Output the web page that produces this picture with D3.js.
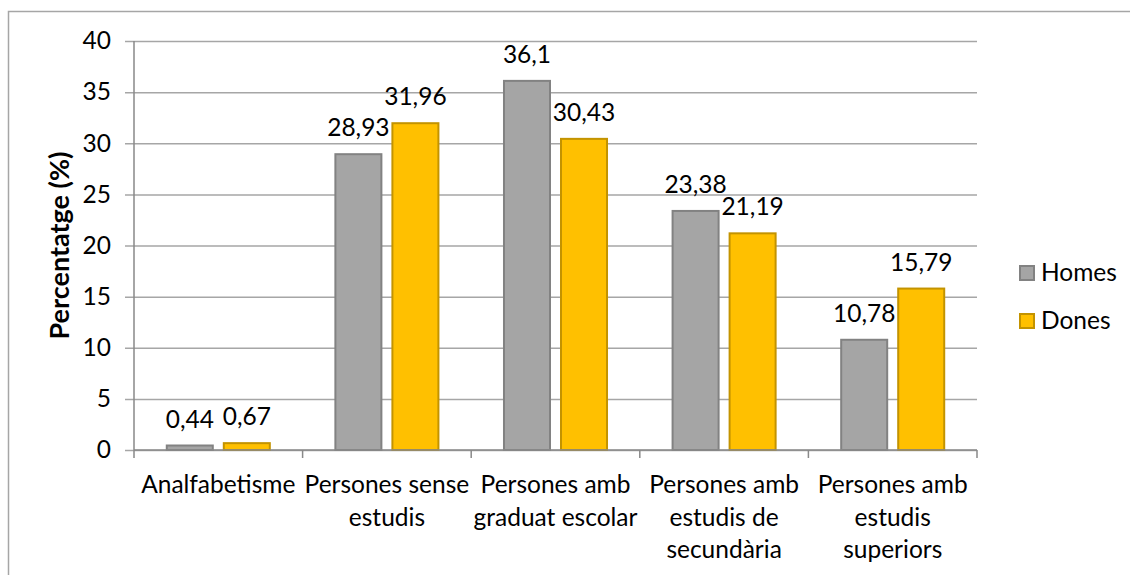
<!DOCTYPE html>
<html>
<head>
<meta charset="utf-8">
<script src="https://cdn.jsdelivr.net/npm/d3@7"></script>
<style>
  body { margin: 0; background: #fff; }
  text { font-family: Lato, "Open Sans", sans-serif; fill: #000; }
</style>
</head>
<body>
<div class="chart"></div>
<script>
// canvas
var svgWidth = 1130;
var svgHeight = 575;

// plot area
var margin = { top: 41, right: 153, bottom: 125, left: 134 };
var width = svgWidth - margin.left - margin.right;
var height = svgHeight - margin.top - margin.bottom;

// data
var categories = [
  "Analfabetisme",
  "Persones sense estudis",
  "Persones amb graduat escolar",
  "Persones amb estudis de secundària",
  "Persones amb estudis superiors"
];
var categoryLines = [
  ["Analfabetisme"],
  ["Persones sense", "estudis"],
  ["Persones amb", "graduat escolar"],
  ["Persones amb", "estudis de", "secundària"],
  ["Persones amb", "estudis", "superiors"]
];
var seriesNames = ["Homes", "Dones"];
var homes = [0.44, 28.93, 36.1, 23.38, 10.78];
var dones = [0.67, 31.96, 30.43, 21.19, 15.79];
var yTicks = [0, 5, 10, 15, 20, 25, 30, 35, 40];

var fills = { Homes: "#a5a5a5", Dones: "#ffc000" };
var strokes = { Homes: "#828282", Dones: "#c39300" };

var fontSize = 24.5;

var svg = d3
  .select(".chart")
  .append("svg")
  .attr("width", svgWidth)
  .attr("height", svgHeight);

// outer chart border (runs off the right and bottom)
svg
  .append("rect")
  .attr("x", 8.5)
  .attr("y", 11.5)
  .attr("width", 1200)
  .attr("height", 700)
  .attr("fill", "none")
  .attr("stroke", "#a6a6a6")
  .attr("stroke-width", 1.5);

var chartGroup = svg
  .append("g")
  .attr("transform", `translate(${margin.left}, ${margin.top})`);

var x0 = d3.scaleBand().domain(categories).range([0, width]).padding(0);
var x1 = d3
  .scaleBand()
  .domain(seriesNames)
  .range([0, x0.bandwidth()])
  .paddingInner(0.193)
  .paddingOuter(0.575);
var y = d3.scaleLinear().domain([0, 40]).range([height, 0]);

// gridlines + y ticks
var leftAxis = d3
  .axisLeft(y)
  .tickValues(yTicks)
  .tickSize(-(width + 9))
  .tickPadding(14)
  .tickFormat(d3.format("d"));

var yAxis = chartGroup
  .append("g")
  .attr("transform", "translate(-9,0)")
  .call(leftAxis);
yAxis.select(".domain").remove();
yAxis
  .selectAll(".tick line")
  .attr("stroke", "#a6a6a6")
  .attr("stroke-width", 1.5);
yAxis
  .selectAll(".tick text")
  .attr("x", -14)
  .style("font-size", fontSize + "px")
  .style("font-family", "Lato")
  .attr("fill", "#000");

// y axis line
chartGroup
  .append("line")
  .attr("x1", 0)
  .attr("x2", 0)
  .attr("y1", 0)
  .attr("y2", height)
  .attr("stroke", "#898989")
  .attr("stroke-width", 1.5);

// bars
var rows = categories.map((c, i) => ({ cat: c, Homes: homes[i], Dones: dones[i] }));

var groups = chartGroup
  .selectAll(".cat")
  .data(rows)
  .enter()
  .append("g")
  .attr("transform", (d) => `translate(${x0(d.cat)},0)`);

var bars = groups
  .selectAll("rect")
  .data((d) => seriesNames.map((s) => ({ key: s, value: d[s] })))
  .enter();

bars
  .append("rect")
  .attr("x", (d) => x1(d.key))
  .attr("y", (d) => y(d.value))
  .attr("width", x1.bandwidth())
  .attr("height", (d) => height - y(d.value))
  .attr("fill", (d) => fills[d.key])
  .attr("stroke", (d) => strokes[d.key])
  .attr("stroke-width", 2);

// data labels
bars
  .append("text")
  .attr("x", (d) => x1(d.key) + x1.bandwidth() / 2)
  .attr("y", (d) => y(d.value) - 18)
  .attr("text-anchor", "middle")
  .style("font-size", fontSize + "px")
  .text((d) => String(d.value).replace(".", ","));

// x axis line and category ticks
var bottomAxis = d3.axisBottom(x0).tickSize(0).tickFormat("");
var xAxis = chartGroup
  .append("g")
  .attr("transform", `translate(0, ${height})`)
  .call(bottomAxis);
xAxis.select(".domain").remove();

chartGroup
  .append("line")
  .attr("x1", 0)
  .attr("x2", width)
  .attr("y1", height)
  .attr("y2", height)
  .attr("stroke", "#898989")
  .attr("stroke-width", 1.5);

var boundaries = categories.map((c) => x0(c)).concat([width]);
chartGroup
  .selectAll(".xtick")
  .data(boundaries)
  .enter()
  .append("line")
  .attr("x1", (d) => d)
  .attr("x2", (d) => d)
  .attr("y1", height)
  .attr("y2", height + 8)
  .attr("stroke", "#898989")
  .attr("stroke-width", 1.5);

// category labels (wrapped)
chartGroup
  .selectAll(".xlabel")
  .data(categories)
  .enter()
  .append("text")
  .attr("text-anchor", "middle")
  .attr("transform", (d) => `translate(${x0(d) + x0.bandwidth() / 2}, ${height + 43})`)
  .style("font-size", fontSize + "px")
  .each(function (d, i) {
    var t = d3.select(this);
    categoryLines[i].forEach(function (line, j) {
      t.append("tspan").attr("x", 0).attr("y", j * 32.5).text(line);
    });
  });

// y axis title
chartGroup
  .append("text")
  .attr("transform", "rotate(-90)")
  .attr("x", -height / 2)
  .attr("y", -65)
  .attr("text-anchor", "middle")
  .style("font-size", "27px")
  .style("font-weight", "bold")
  .text("Percentatge (%)");

// legend
var legend = svg
  .append("g")
  .attr("transform", "translate(1019, 265)");

var legendItems = legend
  .selectAll("g")
  .data(seriesNames)
  .enter()
  .append("g")
  .attr("transform", (d, i) => `translate(0, ${i * 48})`);

legendItems
  .append("rect")
  .attr("x", 1)
  .attr("y", 1)
  .attr("width", 14)
  .attr("height", 14)
  .attr("fill", (d) => fills[d])
  .attr("stroke", (d) => strokes[d])
  .attr("stroke-width", 2);

legendItems
  .append("text")
  .attr("x", 22)
  .attr("y", 16)
  .style("font-size", fontSize + "px")
  .text((d) => d);
</script>
</body>
</html>
